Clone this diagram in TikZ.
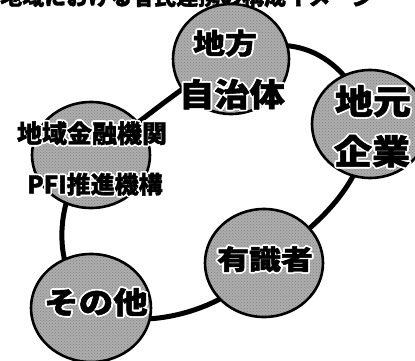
\documentclass[tikz,border=0pt]{standalone}
\usepackage{graphicx}
\usepackage{fontspec}
\newfontfamily\jp{Noto Sans CJK JP}[BoldFeatures={FakeBold=1.6}]
\usepackage{contour}
\contourlength{1.6pt}
\contournumber{16}
\usetikzlibrary{shapes.geometric,patterns,backgrounds}
\newcommand{\jlab}[3]{\scalebox{#2}[1]{\fontsize{#1}{#1}\selectfont\contour{white}{#3}}}
\tikzset{
  member/.style={ellipse, draw=black, line width=2.6pt, preaction={fill=black!32},
    pattern=crosshatch dots, pattern color=black!50, inner sep=0pt},
  link/.style={line width=5pt, line cap=round},
  lbl/.style={inner sep=0pt, font=\jp\bfseries},
}
\begin{document}
\begin{tikzpicture}[x=1pt,y=1pt]
\useasboundingbox (0,0) rectangle (415,-361);
\clip (0,0) rectangle (415,-361);
\node[lbl, anchor=base west] (title) at (0,-5) {\fontsize{22}{22}\selectfont 地域における官民連携の構成イメージ};
% member circles
\node[member, minimum width=116pt, minimum height=110pt] (jichi)   at (231,-59)  {};
\node[member, minimum width=116pt, minimum height=108pt] (kigyo)   at (370,-124) {};
\node[member, minimum width=118pt, minimum height=106pt] (kinyu)   at (91,-155)  {};
\node[member, minimum width=120pt, minimum height=108pt] (sonota)  at (91,-308)  {};
\node[member, minimum width=118pt, minimum height=108pt] (yushiki) at (264,-263) {};
% ring of connectors
\begin{scope}[on background layer]
\fill[white] (0,0) rectangle (415,-361);
\draw[link] (jichi.center) .. controls (280,-30) and (345,-45) .. (kigyo.center);
\draw[link] (kigyo.center) .. controls (362,-190) and (312,-230) .. (yushiki.center);
\draw[link] (yushiki.center) .. controls (230,-310) and (140,-335) .. (sonota.center);
\draw[link] (sonota.center) .. controls (45,-262) and (60,-190) .. (kinyu.center);
\draw[link] (kinyu.center) .. controls (140,-125) and (180,-85) .. (jichi.center);
\end{scope}
% labels
\node[lbl] (t1a) at (225,-44)  {\jlab{28}{1.14}{地方}};
\node[lbl] (t1b) at (232,-95)  {\jlab{32}{1.1}{自治体}};
\node[lbl] (t2a) at (373,-102) {\jlab{34}{1.12}{地元}};
\node[lbl] (t2b) at (372,-152) {\jlab{34}{1.12}{企業}};
\node[lbl] (t3a) at (92,-134)  {\jlab{25}{1.0}{地域金融機関}};
\node[lbl] (t3b) at (95,-185)  {\jlab{24}{1.0}{PFI推進機構}};
\node[lbl] (t4)  at (96,-303)  {\jlab{30}{1.15}{その他}};
\node[lbl] (t5)  at (265,-260) {\jlab{27}{1.18}{有識者}};
\end{tikzpicture}
\end{document}
